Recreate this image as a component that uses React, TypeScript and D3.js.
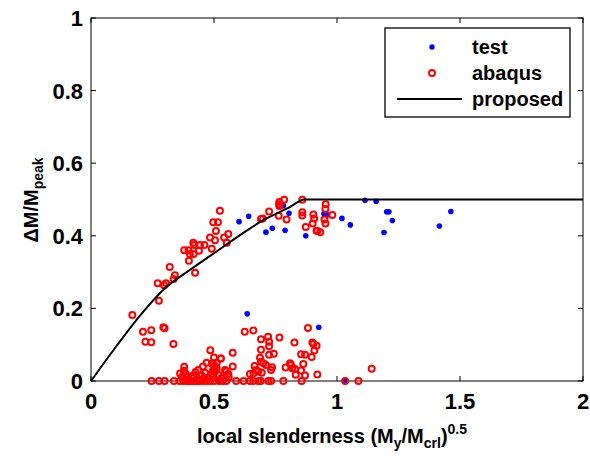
import React from "react";
import * as d3 from "d3";

const xTicks = [0, 0.5, 1, 1.5, 2];
const xTickLabels = ["0", "0.5", "1", "1.5", "2"];
const yTicks = [0, 0.2, 0.4, 0.6, 0.8, 1];
const yTickLabels = ["0", "0.2", "0.4", "0.6", "0.8", "1"];

const testX = [0.602, 0.641, 0.711, 0.737, 0.782, 0.789, 0.805, 0.873, 0.947, 0.961, 1.02, 1.054, 1.114, 1.159, 1.191, 1.202, 1.211, 1.225, 1.416, 1.463, 0.635, 0.926, 0.515, 1.035];
const testY = [0.439, 0.454, 0.41, 0.421, 0.483, 0.415, 0.462, 0.4, 0.461, 0.458, 0.448, 0.43, 0.498, 0.495, 0.409, 0.466, 0.466, 0.442, 0.427, 0.467, 0.185, 0.148, 0, 0];

const abaqusX = [
  // upper cluster
  0.271, 0.297, 0.305, 0.32, 0.341, 0.336, 0.398, 0.423, 0.379, 0.396, 0.402, 0.416, 0.42, 0.417, 0.439, 0.443, 0.461, 0.484, 0.491, 0.504, 0.508, 0.497, 0.516, 0.524, 0.541, 0.558, 0.552, 0.691, 0.698, 0.724, 0.766, 0.766, 0.763,
  0.168, 0.211, 0.245, 0.221, 0.245, 0.294, 0.299, 0.335, 0.276,
  0.764, 0.785, 0.795, 0.859, 0.859, 0.859, 0.904, 0.907, 0.901, 0.873, 0.917, 0.954, 0.953, 0.949, 0.953, 0.92, 0.932, 0.981,
  // lower cluster
  0.625, 0.576, 0.576, 0.527, 0.511, 0.497, 0.379, 0.378, 0.362, 0.436, 0.463, 0.549, 0.558,
  0.66, 0.691, 0.72, 0.724, 0.724, 0.766, 0.691, 0.687, 0.691, 0.701, 0.665, 0.646, 0.66, 0.68, 0.694, 0.711, 0.732, 0.736, 0.724, 0.743,
  0.809, 0.813, 0.818, 0.827, 0.854, 0.87, 0.863, 0.854, 0.832, 0.87, 0.882, 0.9, 0.904, 0.917, 0.908, 0.897, 0.92, 0.791, 0.829, 1.141,
  0.416, 0.491, 0.5, 0.504, 0.497, 0.511, 0.518, 0.392, 0.4, 0.443, 0.477, 0.671, 0.495, 0.504, 0.528,
  0.37, 0.385, 0.41, 0.425, 0.45, 0.46, 0.49, 0.53, 0.545, 0.56, 0.455, 0.47, 0.5, 0.485,
  // on the axis
  0.246, 0.276, 0.299, 0.337, 0.36, 0.375, 0.39, 0.4, 0.41, 0.42, 0.43, 0.44, 0.455, 0.47, 0.485, 0.5, 0.52, 0.535, 0.55, 0.59, 0.62, 0.646, 0.66, 0.68, 0.69, 0.721, 0.732, 0.782, 0.856, 1.033, 1.087,
];
const abaqusY = [
  0.269, 0.264, 0.269, 0.314, 0.291, 0.281, 0.331, 0.298, 0.36, 0.36, 0.35, 0.381, 0.375, 0.35, 0.359, 0.375, 0.375, 0.395, 0.364, 0.388, 0.413, 0.437, 0.437, 0.469, 0.395, 0.405, 0.381, 0.446, 0.448, 0.467, 0.493, 0.482, 0.455,
  0.182, 0.136, 0.14, 0.108, 0.107, 0.148, 0.145, 0.102, 0.221,
  0.487, 0.499, 0.445, 0.499, 0.465, 0.456, 0.459, 0.448, 0.434, 0.424, 0.414, 0.487, 0.474, 0.445, 0.434, 0.413, 0.41, 0.457,
  0.136, 0.078, 0.04, 0.062, 0.05, 0.047, 0.039, 0.028, 0.021, 0.03, 0.023, 0.026, 0.019,
  0.139, 0.115, 0.122, 0.108, 0.096, 0.12, 0.086, 0.064, 0.053, 0.049, 0.041, 0.019, 0.021, 0.026, 0.023, 0.044, 0.03, 0.038, 0.072, 0.075,
  0.049, 0.044, 0.035, 0.106, 0.074, 0.072, 0.047, 0.029, 0.017, 0.015, 0.146, 0.106, 0.102, 0.097, 0.084, 0.066, 0.018, 0.037, 0.033, 0.034,
  0.016, 0.048, 0.039, 0.026, 0.012, 0.035, 0.017, 0.012, 0.003, 0.005, 0.007, 0.03, 0.028, 0.04, 0.062,
  0.012, 0.02, 0.008, 0.025, 0.015, 0.008, 0.02, 0.008, 0.03, 0.01, 0.04, 0.05, 0.065, 0.085,
  0, 0, 0, 0, 0, 0, 0, 0, 0, 0, 0, 0, 0, 0, 0, 0, 0, 0, 0, 0, 0, 0, 0, 0, 0, 0, 0, 0, 0, 0, 0,
];

const proposedX = [0, 0.1, 0.2, 0.3, 0.4, 0.5, 0.6, 0.7, 0.8, 0.87, 2];
const proposedY = [0, 0.093, 0.181, 0.255, 0.305, 0.352, 0.399, 0.443, 0.476, 0.5, 0.5];

const legendLabels = ["test", "abaqus", "proposed"];

const W = 590, H = 462;
const M = { left: 91, top: 18, right: 7, bottom: 81 };
const FONT = "'Liberation Sans', Arial, Helvetica, sans-serif";

export default function App() {
  const x = d3.scaleLinear().domain([0, 2]).range([M.left, W - M.right]);
  const y = d3.scaleLinear().domain([0, 1]).range([H - M.bottom, M.top]);
  const x0 = x(0), x1 = x(2), y0 = y(0), y1 = y(1);
  const tl = 5;

  const curvePts: [number, number][] = proposedX.map((v, i) => [v, proposedY[i]]);
  const line = d3
    .line<[number, number]>()
    .x((d) => x(d[0]))
    .y((d) => y(d[1]))
    .curve(d3.curveMonotoneX);

  const lx = 385, ly = 28, lw = 185, lh = 89;

  return (
    <svg width={W} height={H} style={{ position: "absolute", left: 0, top: 0, background: "#fff" }} fontFamily={FONT}>
      <rect x={0} y={0} width={W} height={H} fill="#fff" />
      <defs>
        <clipPath id="plotclip">
          <rect x={x0 - 6} y={y1} width={x1 - x0 + 6} height={y0 - y1 + 6} />
        </clipPath>
      </defs>
      {/* frame */}
      <rect x={x0} y={y1} width={x1 - x0} height={y0 - y1} fill="none" stroke="#000" strokeWidth={1} />
      {xTicks.map((t, i) => (
        <g key={"xt" + i}>
          <line x1={x(t)} x2={x(t)} y1={y0} y2={y0 - tl} stroke="#000" />
          <line x1={x(t)} x2={x(t)} y1={y1} y2={y1 + tl} stroke="#000" />
          <text x={x(t)} y={y0 + 28} textAnchor="middle" fontSize={22} fontWeight="bold">
            {xTickLabels[i]}
          </text>
        </g>
      ))}
      {yTicks.map((t, i) => (
        <g key={"yt" + i}>
          <line x1={x0} x2={x0 + tl} y1={y(t)} y2={y(t)} stroke="#000" />
          <line x1={x1} x2={x1 - tl} y1={y(t)} y2={y(t)} stroke="#000" />
          <text x={x0 - 8} y={y(t) + 8} textAnchor="end" fontSize={22} fontWeight="bold">
            {yTickLabels[i]}
          </text>
        </g>
      ))}
      <g clipPath="url(#plotclip)">
        {testX.map((v, i) => (
          <circle key={"t" + i} cx={x(v)} cy={y(testY[i])} r={2.8} fill="#0000ff" />
        ))}
        {abaqusX.map((v, i) => (
          <circle key={"a" + i} cx={x(v)} cy={y(abaqusY[i])} r={3} fill="none" stroke="#ff0000" strokeWidth={2} />
        ))}
        <path d={line(curvePts) || ""} fill="none" stroke="#000" strokeWidth={2} />
      </g>
      {/* x label */}
      <text x={197} y={443} fontSize={20} fontWeight="bold">
        local slenderness (M
        <tspan fontSize={14} dy={5}>y</tspan>
        <tspan fontSize={20} dy={-5}>/M</tspan>
        <tspan fontSize={14} dy={5}>crl</tspan>
        <tspan fontSize={20} dy={-5}>)</tspan>
        <tspan fontSize={14} dy={-9}>0.5</tspan>
      </text>
      {/* y label */}
      <text transform={`translate(38, 200) rotate(-90)`} textAnchor="middle" fontSize={20} fontWeight="bold">
        ΔM/M<tspan fontSize={14} dy={5}>peak</tspan>
      </text>
      {/* legend */}
      <rect x={lx} y={ly} width={lw} height={lh} fill="#fff" stroke="#000" strokeWidth={1.3} />
      <circle cx={432} cy={47} r={2.7} fill="#0000ff" />
      <circle cx={432} cy={73} r={3} fill="none" stroke="#ff0000" strokeWidth={2} />
      <line x1={397} x2={462} y1={99} y2={99} stroke="#000" strokeWidth={2} />
      {legendLabels.map((s, i) => (
        <text key={"lg" + i} x={472} y={54 + i * 26} fontSize={20} fontWeight="bold">
          {s}
        </text>
      ))}
    </svg>
  );
}
